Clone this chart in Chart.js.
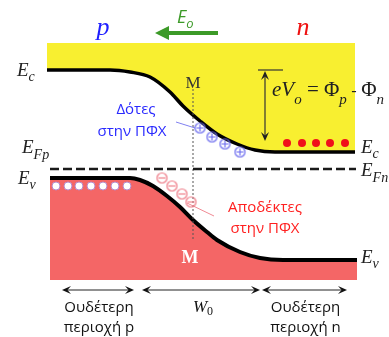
<!DOCTYPE html>
<html><head><meta charset="utf-8">
<script src="https://cdn.jsdelivr.net/npm/chart.js@4"></script>
<style>html,body{margin:0;padding:0;background:#fff;}canvas{display:block;}</style>
</head><body>
<canvas id="c" width="389" height="337"></canvas>
<script>
// ---- Diagram data (x: position across junction, y: electron energy, downward = lower) ----
const ecX = [47, 110, 130, 150, 170, 183, 200, 217, 237, 255, 275, 355];
const ecY = [70, 70, 72, 77, 92, 106, 121, 134, 144, 150, 152, 152];
const evX = [50, 130, 140, 153, 167, 180, 193, 207, 217, 240, 260, 283, 357];
const evY = [178, 178, 180, 186, 196, 207, 220, 232, 240, 252, 258, 260, 260];
const fermiX = [50, 356];
const fermiY = [169, 169];
const conductionTop = 43;
const valenceBottom = 280;
const electronX = [287, 302, 316, 330, 345];
const electronY = [143, 143, 143, 143, 143];
const holeX = [56, 68, 79, 91, 103, 115, 127];
const holeY = [186, 186, 186, 186, 186, 186, 186];
const donorX = [200, 212, 225, 240];
const donorY = [128, 137, 144, 152];
const acceptorX = [162, 172, 182, 191];
const acceptorY = [178, 186, 194, 202];
const junctionX = [193, 193];
const junctionY = [89, 240];
const regionStart = [62, 142, 262];
const regionEnd = [134, 260, 347];
const regionLevel = 290;
const regionLine1 = ['Ουδέτερη', '', 'Ουδέτερη'];
const regionLine2 = ['περιοχή p', '', 'περιοχή n'];
const donorLabel = ['Δότες', 'στην ΠΦΧ'];
const acceptorLabel = ['Αποδέκτες', 'στην ΠΦΧ'];

const pts = (xs, ys) => xs.map((x, i) => ({x, y: ys[i]}));

function circled(color, plus) {
  const r = 5, s = 2 * r + 3;
  const cv = document.createElement('canvas');
  cv.width = s; cv.height = s;
  const g = cv.getContext('2d');
  const c = s / 2;
  g.strokeStyle = color; g.lineWidth = 1.2;
  g.beginPath(); g.arc(c, c, r, 0, Math.PI * 2); g.stroke();
  g.beginPath(); g.moveTo(c - r + 1.5, c); g.lineTo(c + r - 1.5, c);
  if (plus) { g.moveTo(c, c - r + 1.5); g.lineTo(c, c + r - 1.5); }
  g.stroke();
  return cv;
}
const donorImg = circled('#6a6aee', true);
const acceptorImg = circled('#ee7a86', false);

const SERIF = '"Liberation Serif", "Times New Roman", serif';
const SANS = '"Open Sans", "Noto Sans", sans-serif';

// rich labels: anchor in diagram units, segments with font / baseline offset
const richLabels = [
  {x: 103, y: 35, align: 'center', color: '#1f1fff', segs: [{t: 'p', f: 'italic 26px ' + SERIF}]},
  {x: 303, y: 35, align: 'center', color: '#ee1111', segs: [{t: 'n', f: 'italic 26px ' + SERIF}]},
  {x: 177, y: 23, align: 'left', color: '#3c9a28', segs: [{t: 'E', f: 'italic 18px ' + SANS}, {t: 'o', f: 'italic 13px ' + SANS, dy: 5}]},
  {x: 17, y: 76, align: 'left', color: '#222', segs: [{t: 'E', f: 'italic 19px ' + SERIF}, {t: 'c', f: 'italic 14px ' + SERIF, dy: 5}]},
  {x: 22, y: 153, align: 'left', color: '#222', segs: [{t: 'E', f: 'italic 19px ' + SERIF}, {t: 'Fp', f: 'italic 14px ' + SERIF, dy: 6}]},
  {x: 18, y: 184, align: 'left', color: '#222', segs: [{t: 'E', f: 'italic 19px ' + SERIF}, {t: 'v', f: 'italic 14px ' + SERIF, dy: 5}]},
  {x: 361, y: 153, align: 'left', color: '#222', segs: [{t: 'E', f: 'italic 19px ' + SERIF}, {t: 'c', f: 'italic 14px ' + SERIF, dy: 5}]},
  {x: 361, y: 176, align: 'left', color: '#222', segs: [{t: 'E', f: 'italic 19px ' + SERIF}, {t: 'Fn', f: 'italic 14px ' + SERIF, dy: 6}]},
  {x: 361, y: 263, align: 'left', color: '#222', segs: [{t: 'E', f: 'italic 19px ' + SERIF}, {t: 'v', f: 'italic 14px ' + SERIF, dy: 5}]},
  {x: 193, y: 88, align: 'center', color: '#333', segs: [{t: 'M', f: '17px ' + SERIF}]},
  {x: 190, y: 263, align: 'center', color: '#ffffff', segs: [{t: 'M', f: 'bold 18px ' + SERIF}]},
  {x: 272, y: 96, align: 'left', color: '#222', segs: [
    {t: 'eV', f: 'italic 21px ' + SERIF}, {t: 'o', f: 'italic 15px ' + SERIF, dy: 8},
    {t: ' = Φ', f: '21px ' + SERIF}, {t: 'p', f: 'italic 15px ' + SERIF, dy: 8},
    {t: ' - ', f: '17px ' + SANS}, {t: 'Φ', f: '21px ' + SERIF}, {t: 'n', f: 'italic 15px ' + SERIF, dy: 8}]},
  {x: 136, y: 114, align: 'center', color: '#2a2aff', segs: [{t: donorLabel[0], f: '15px ' + SANS}]},
  {x: 132, y: 136, align: 'center', color: '#2a2aff', segs: [{t: donorLabel[1], f: '15px ' + SANS}]},
  {x: 265, y: 212, align: 'center', color: '#ff2020', segs: [{t: acceptorLabel[0], f: '15px ' + SANS}]},
  {x: 265, y: 233, align: 'center', color: '#ff2020', segs: [{t: acceptorLabel[1], f: '15px ' + SANS}]},
  {x: 203, y: 312, align: 'center', color: '#111', segs: [{t: 'W', f: 'italic 17px ' + SERIF}, {t: '0', f: '12px ' + SERIF, dy: 3}]}
];
regionLine1.forEach((t, i) => {
  if (!t) return;
  const cx = (regionStart[i] + regionEnd[i]) / 2 + 1;
  richLabels.push({x: cx, y: 312, align: 'center', color: '#111', segs: [{t, f: '15px ' + SANS}]});
  richLabels.push({x: cx, y: 332, align: 'center', color: '#111', segs: [{t: regionLine2[i], f: '15px ' + SANS}]});
});

function drawRich(ctx, X, Y, lab) {
  let w = 0;
  lab.segs.forEach(s => { ctx.font = s.f; w += ctx.measureText(s.t).width; });
  let x = lab.align === 'center' ? X - w / 2 : X;
  ctx.fillStyle = lab.color;
  ctx.textBaseline = 'alphabetic'; ctx.textAlign = 'left';
  lab.segs.forEach(s => {
    ctx.font = s.f;
    ctx.fillText(s.t, x, Y + (s.dy || 0));
    x += ctx.measureText(s.t).width;
  });
}

// barbed filled arrowhead with tip at (x,y), pointing opposite to direction ang
function arrowHead(ctx, x, y, ang, len, half) {
  const c = Math.cos(ang), s = Math.sin(ang);
  ctx.beginPath();
  ctx.moveTo(x, y);
  ctx.lineTo(x + c * len - s * half, y + s * len + c * half);
  ctx.lineTo(x + c * len * 0.6, y + s * len * 0.6);
  ctx.lineTo(x + c * len + s * half, y + s * len - c * half);
  ctx.closePath(); ctx.fill();
}

const annotate = {
  id: 'annotate',
  afterDatasetsDraw(chart) {
    const ctx = chart.ctx, sx = chart.scales.x, sy = chart.scales.y;
    const X = v => sx.getPixelForValue(v), Y = v => sy.getPixelForValue(v);
    ctx.save();
    // field arrow E_o
    ctx.strokeStyle = '#3c9a28'; ctx.fillStyle = '#3c9a28'; ctx.lineWidth = 4;
    ctx.beginPath(); ctx.moveTo(X(218), Y(33)); ctx.lineTo(X(166), Y(33)); ctx.stroke();
    ctx.beginPath(); ctx.moveTo(X(155), Y(33)); ctx.lineTo(X(169), Y(26)); ctx.lineTo(X(169), Y(40)); ctx.closePath(); ctx.fill();
    // built-in potential arrow
    ctx.strokeStyle = '#333'; ctx.fillStyle = '#222'; ctx.lineWidth = 1.2;
    ctx.beginPath(); ctx.moveTo(X(258), Y(70)); ctx.lineTo(X(283), Y(70)); ctx.stroke();
    ctx.beginPath(); ctx.moveTo(X(265), Y(73)); ctx.lineTo(X(265), Y(139)); ctx.stroke();
    arrowHead(ctx, X(265), Y(71), Math.PI / 2, 9, 4);
    arrowHead(ctx, X(265), Y(141), -Math.PI / 2, 9, 4);
    // region arrows
    ctx.strokeStyle = '#222'; ctx.fillStyle = '#111'; ctx.lineWidth = 1;
    regionStart.forEach((a, i) => {
      const b = regionEnd[i], y = Y(regionLevel);
      ctx.beginPath(); ctx.moveTo(X(a) + 3, y); ctx.lineTo(X(b) - 3, y); ctx.stroke();
      arrowHead(ctx, X(a), y, 0, 9, 4);
      arrowHead(ctx, X(b), y, Math.PI, 9, 4);
    });
    richLabels.forEach(l => drawRich(ctx, X(l.x), Y(l.y), l));
    ctx.restore();
  }
};

new Chart(document.getElementById('c'), {
  type: 'line',
  data: {
    datasets: [
      {data: pts(ecX, ecY), borderColor: '#000', borderWidth: 3.5, backgroundColor: '#f8ef30',
       fill: {value: conductionTop}, cubicInterpolationMode: 'monotone', pointRadius: 0, order: 5},
      {data: pts(evX, evY), borderColor: '#000', borderWidth: 4, backgroundColor: '#f46666',
       fill: {value: valenceBottom}, cubicInterpolationMode: 'monotone', pointRadius: 0, order: 5},
      {data: pts(fermiX, fermiY), borderColor: '#1a1a1a', borderWidth: 2.5, borderDash: [9, 4],
       pointRadius: 0, fill: false, order: 4},
      {data: pts(junctionX, junctionY), borderColor: '#555', borderWidth: 1, borderDash: [2, 2],
       pointRadius: 0, fill: false, order: 4},
      {data: [{x: 176, y: 122}, {x: 195, y: 128}], borderColor: '#8080f0', borderWidth: 1, pointRadius: 0, fill: false, order: 3},
      {data: [{x: 187, y: 203}, {x: 214, y: 216}], borderColor: '#f08a94', borderWidth: 1, pointRadius: 0, fill: false, order: 3},
      {data: pts(electronX, electronY), showLine: false, pointRadius: 4, pointBackgroundColor: '#f0101a',
       pointBorderWidth: 0, order: 1},
      {data: pts(holeX, holeY), showLine: false, pointRadius: 4, pointBackgroundColor: '#ffffff',
       pointBorderColor: '#b58acb', pointBorderWidth: 1, order: 1},
      {data: pts(donorX, donorY), showLine: false, pointStyle: donorImg, order: 1},
      {data: pts(acceptorX, acceptorY), showLine: false, pointStyle: acceptorImg, order: 1}
    ]
  },
  options: {
    responsive: false, animation: false, devicePixelRatio: 1,
    layout: {padding: 0, autoPadding: false},
    events: [],
    scales: {
      x: {type: 'linear', min: 0, max: 389, display: false},
      y: {type: 'linear', min: 0, max: 337, reverse: true, display: false}
    },
    plugins: {legend: {display: false}, tooltip: {enabled: false}}
  },
  plugins: [annotate]
});
</script>
</body></html>
